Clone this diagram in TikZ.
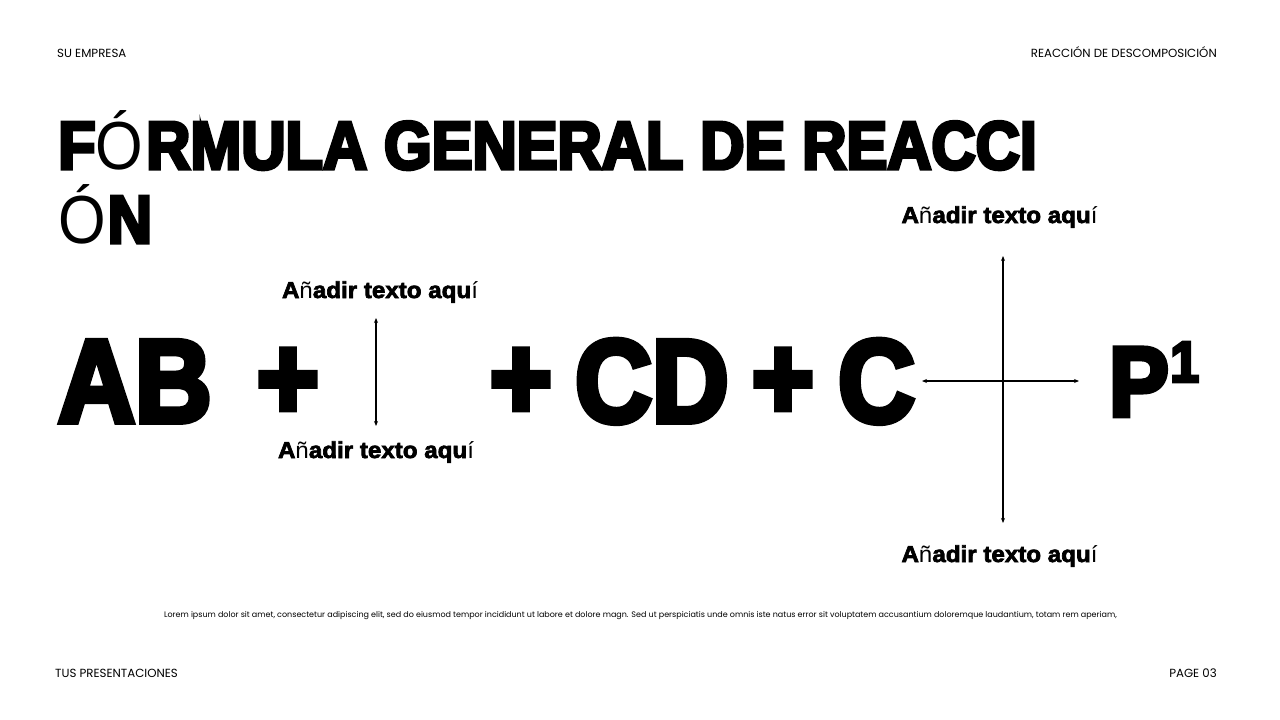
\documentclass[tikz,border=0pt]{standalone}
\usepackage{fontspec}
\usetikzlibrary{arrows.meta}
\setmainfont{Poppins}
\newfontfamily\heavy{Liberation Sans Bold}[FakeBold=3, FakeStretch=1.05]
\newfontfamily\narrow{Liberation Sans Bold}[FakeBold=5, FakeStretch=0.9]
\newfontfamily\thin{Liberation Sans}[FakeStretch=1.05]
\newfontfamily\thinnarrow{Liberation Sans}[FakeStretch=0.9]
\begin{document}
\begin{tikzpicture}[x=1pt,y=-1pt]
        \tikzstyle{every node}=[inner sep=0, anchor=base west];
        \tikzstyle{small}=[font=\fontsize{11.8}{11.8}\selectfont];
        \tikzstyle{headline}=[font=\narrow\fontsize{68}{68}\selectfont];
        \tikzstyle{formula}=[font=\narrow\fontsize{118}{118}\selectfont];
        \tikzstyle{hint}=[font=\heavy\fontsize{23}{23}\selectfont, anchor=base];
        \tikzstyle{arr}=[{Stealth[length=5pt,width=4pt]}-{Stealth[length=5pt,width=4pt]}, line width=1.4pt];
        \useasboundingbox (0,0) rectangle (1280,720);

        \node[small] (firm) at (57,57) {SU EMPRESA};
        \node[small, anchor=base east] (topic) at (1217,57) {REACCIÓN DE DESCOMPOSICIÓN};
        \node[small] (tagline) at (55,677) {TUS PRESENTACIONES};
        \node[small, anchor=base east] (page) at (1217,677) {PAGE 03};

        \node[headline] (title) at (58,169) {F{\thinnarrow Ó}\kern3pt RMULA GENERAL DE REACCI};
        \node[headline] (title2) at (58,243) {{\thinnarrow Ó}\kern2pt N};

        \node[formula] (ab) at (58,422) {AB};
        \node[formula, anchor=center] (plusa) at (288,384) {+};
        \node[formula, anchor=center] (plusb) at (521,384) {+};
        \node[formula] (cd) at (575,422) {CD};
        \node[formula, anchor=center] (plusc) at (783,384) {+};
        \node[formula] (c) at (838,422) {C};
        \node[formula, font=\narrow\fontsize{99}{99}\selectfont] (p) at (1109,416) {P};
        \node[font=\narrow\fontsize{58}{58}\selectfont] (sup) at (1170,382) {1};

        \coordinate (midtop) at (376,318);
        \coordinate (midbot) at (376,426);
        \draw[arr] (midtop) -- (midbot);
        \node[hint] (hinta) at (380,298) {A{\thin ñ}adir texto aqu{\thin í}};
        \node[hint] (hintb) at (376,458) {A{\thin ñ}adir texto aqu{\thin í}};

        \coordinate (crossl) at (922,381);
        \coordinate (crossr) at (1079,381);
        \coordinate (crosst) at (1003,256);
        \coordinate (crossb) at (1003,523);
        \draw[arr] (crossl) -- (crossr);
        \draw[arr] (crosst) -- (crossb);
        \node[hint] (hintc) at (999.5,223) {A{\thin ñ}adir texto aqu{\thin í}};
        \node[hint] (hintd) at (999.5,562) {A{\thin ñ}adir texto aqu{\thin í}};

        \node[font=\fontsize{8}{8}\selectfont, anchor=base] (lorem) at (640.5,617) {Lorem ipsum dolor sit amet, consectetur adipiscing elit, sed do eiusmod tempor incididunt ut labore et dolore magn. Sed ut perspiciatis unde omnis iste natus error sit voluptatem accusantium doloremque laudantium, totam rem aperiam,};
\end{tikzpicture}
\end{document}
